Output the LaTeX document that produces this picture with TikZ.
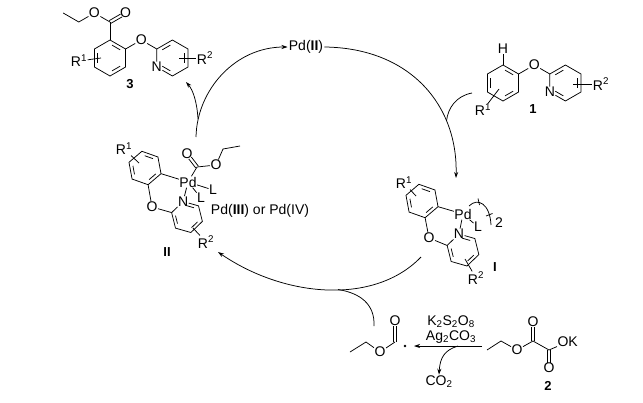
\documentclass[tikz,border=0pt]{standalone}
\usepackage{fontspec}
\setmainfont{Liberation Sans}
\usetikzlibrary{calc,arrows.meta}
\newcommand{\inb}[3]{\draw ($(#1)!0.17!(#2)!0.22!(#3)$) -- ($(#2)!0.17!(#1)!0.22!(#3)$);}
\newcommand{\dbl}[2]{%
 \draw[shorten >=5pt] ($(#1)!1.6pt!90:(#2)$) -- ($(#2)!1.6pt!-90:(#1)$);
 \draw[shorten >=5pt] ($(#1)!1.6pt!-90:(#2)$) -- ($(#2)!1.6pt!90:(#1)$);}
\begin{document}
\begin{tikzpicture}[x=1pt,y=-1pt,line width=0.75pt,
  atom/.style={inner sep=0.2pt,font=\fontsize{14}{14}\selectfont},
  lbl/.style={inner sep=1pt,font=\fontsize{13}{13}\selectfont\bfseries},
  txt/.style={inner sep=1pt,font=\fontsize{14}{14}\selectfont},
  arr/.style={-{Stealth[length=6pt,width=4pt]}}]
\fill[white] (0,0) rectangle (643,402);
\useasboundingbox (0,0) rectangle (643,402);

% ---------- compound 3 ----------
\coordinate (C3c) at (110,58);
\coordinate (A1) at (110,40); \coordinate (A2) at (125.6,49); \coordinate (A3) at (125.6,67);
\coordinate (A4) at (110,76); \coordinate (A5) at (94.4,67); \coordinate (A6) at (94.4,49);
\coordinate (K3) at (110,22); \coordinate (E3a) at (78.8,22); \coordinate (E3b) at (63.2,13);
\node[atom] (O3a) at (125.6,13) {O};
\node[atom] (O3b) at (94.4,13) {O};
\node[atom] (O3) at (141.2,40) {O};
\coordinate (Q3) at (172.4,58);
\coordinate (P1) at (156.8,49); \coordinate (P2) at (172.4,40); \coordinate (P3) at (188,49);
\coordinate (P4) at (188,67); \coordinate (P5) at (172.4,76);
\node[atom] (N3) at (156.8,67) {N};
\node[atom] (R13) at (79,61) {R\textsuperscript{1}};
\node[atom] (R23) at (205,58) {R\textsuperscript{2}};
\coordinate (r3a) at (101,58); \coordinate (r3b) at (179,58);
\node[lbl] (L3) at (130,84) {3};
\draw (A1) -- (A2) -- (A3) -- (A4) -- (A5) -- (A6) -- cycle;
\inb{A1}{A2}{C3c} \inb{A3}{A4}{C3c} \inb{A5}{A6}{C3c}
\draw (A1) -- (K3);
\dbl{K3}{O3a}
\draw (K3) -- (O3b) -- (E3a) -- (E3b);
\draw (A2) -- (O3) -- (P1);
\draw (P1) -- (P2) -- (P3) -- (P4) -- (P5) -- (N3) -- (P1);
\inb{P1}{P2}{Q3} \inb{P3}{P4}{Q3} \inb{P5}{N3.center}{Q3}
\draw (R13) -- (r3a);
\draw (r3b) -- (R23);

% ---------- compound 1 ----------
\coordinate (C1c) at (503,83);
\coordinate (B1) at (503,65); \coordinate (B2) at (518.6,74); \coordinate (B3) at (518.6,92);
\coordinate (B4) at (503,101); \coordinate (B5) at (487.4,92); \coordinate (B6) at (487.4,74);
\node[atom] (H1) at (503,49) {H};
\node[atom] (O1) at (534.2,65) {O};
\coordinate (Q1) at (565.4,83);
\coordinate (S1) at (549.8,74); \coordinate (S2) at (565.4,65); \coordinate (S3) at (581,74);
\coordinate (S4) at (581,92); \coordinate (S5) at (565.4,101);
\node[atom] (N1) at (549.8,92) {N};
\node[atom] (R11) at (483,110) {R\textsuperscript{1}};
\node[atom] (R21) at (601,84) {R\textsuperscript{2}};
\coordinate (r1a) at (499,89); \coordinate (r1b) at (573,84);
\node[lbl] (L1) at (533,109) {1};
\draw (B1) -- (B2) -- (B3) -- (B4) -- (B5) -- (B6) -- cycle;
\inb{B1}{B2}{C1c} \inb{B3}{B4}{C1c} \inb{B5}{B6}{C1c}
\draw (B1) -- (H1);
\draw (B2) -- (O1) -- (S1);
\draw (S1) -- (S2) -- (S3) -- (S4) -- (S5) -- (N1) -- (S1);
\inb{S1}{S2}{Q1} \inb{S3}{S4}{Q1} \inb{S5}{N1.center}{Q1}
\draw (R11) -- (r1a);
\draw (r1b) -- (R21);

% ---------- Pd(II) ----------
\node[txt] (PdII) at (306,47) {Pd(\textbf{II})};

% ---------- complex II ----------
\coordinate (cII) at (145,168);
\foreach \i/\a in {1/259.5,2/319.5,3/19.5,4/79.5,5/139.5,6/199.5}
  \coordinate (v\i) at ($(cII)+(\a:17)$);
\coordinate (pII) at (187,217);
\foreach \i/\a in {a/-44,b/16,c/76,d/136,e/196}
  \coordinate (w\i) at ($(pII)+(\a:16)$);
\node[atom] (NII) at ($(pII)+(-104:16)$) {N};
\node[atom] (PdB) at (188,182) {Pd};
\node[atom] (OII) at (152,207) {O};
\coordinate (ccII) at (197,167);
\node[atom] (OcII) at (187,154) {O};
\node[atom] (OeII) at (216,165) {O};
\coordinate (e1II) at (223,149); \coordinate (e2II) at (240,146);
\node[atom] (LaII) at (213,190) {L};
\node[atom] (LbII) at (201,198) {L};
\node[atom] (R1II) at (124,149) {R\textsuperscript{1}};
\node[atom] (R2II) at (206,242) {R\textsuperscript{2}};
\coordinate (r2a) at (139,163); \coordinate (r2b) at (193,228);
\node[lbl] (LII) at (167,252) {II};
\node[txt] (ox) at (260,211) {Pd(\textbf{III}) or Pd(IV)};
\draw (v1) -- (v2) -- (v3) -- (v4) -- (v5) -- (v6) -- cycle;
\inb{v1}{v2}{cII} \inb{v3}{v4}{cII} \inb{v5}{v6}{cII}
\draw (v3) -- (PdB);
\draw (v4) -- (OII) -- (we);
\draw (NII) -- (wa) -- (wb) -- (wc) -- (wd) -- (we) -- (NII);
\inb{NII.center}{wa}{pII} \inb{wb}{wc}{pII} \inb{wd}{we}{pII}
\draw (PdB) -- (NII);
\draw (PdB) -- (ccII);
\dbl{ccII}{OcII}
\draw (ccII) -- (OeII) -- (e1II) -- (e2II);
\draw (PdB) -- (LaII);
\draw (PdB) -- (LbII);
\draw (R1II) -- (r2a);
\draw (r2b) -- (R2II);

% ---------- complex I ----------
\coordinate (cI) at (422,201);
\foreach \i/\a in {1/259.5,2/319.5,3/19.5,4/79.5,5/139.5,6/199.5}
  \coordinate (u\i) at ($(cI)+(\a:17)$);
\coordinate (pI) at (463,250);
\foreach \i/\a in {a/-44,b/16,c/76,d/136,e/196}
  \coordinate (t\i) at ($(pI)+(\a:16.5)$);
\node[atom] (NI) at ($(pI)+(-104:16.5)$) {N};
\node[atom] (PdA) at (463,214) {Pd};
\node[atom] (OI) at (429,238) {O};
\node[atom] (LI) at (478,227) {L};
\node[atom] (twoI) at (499,223) {2};
\node[atom] (R1I) at (404,183) {R\textsuperscript{1}};
\node[atom] (R2I) at (476,278) {R\textsuperscript{2}};
\coordinate (r4a) at (416,196); \coordinate (r4b) at (465,259);
\node[lbl] (LI1) at (495,267) {I};
\draw (u1) -- (u2) -- (u3) -- (u4) -- (u5) -- (u6) -- cycle;
\inb{u1}{u2}{cI} \inb{u3}{u4}{cI} \inb{u5}{u6}{cI}
\draw (u3) -- (PdA);
\draw (u4) -- (OI) -- (te);
\draw (NI) -- (ta) -- (tb) -- (tc) -- (td) -- (te) -- (NI);
\inb{NI.center}{ta}{pI} \inb{tb}{tc}{pI} \inb{td}{te}{pI}
\draw (PdA) -- (NI);
\draw (PdA) -- (LI);
\coordinate (ba0) at (469,206); \coordinate (ba1) at (491,225);
\draw (ba0) .. controls (478,197) and (490,204) .. (ba1);
\coordinate (tk1a) at (478,198.5); \coordinate (tk1b) at (479.5,205);
\coordinate (tk2a) at (486,216); \coordinate (tk2b) at (492.5,213.5);
\draw (tk1a) -- (tk1b);
\draw (tk2a) -- (tk2b);
\draw (R1I) -- (r4a);
\draw (r4b) -- (R2I);

% ---------- radical and oxalate ----------
\coordinate (Rm) at (350,352); \coordinate (Rc) at (366,342); \coordinate (Rk) at (395,342);
\node[atom] (Ro) at (380,352) {O};
\node[atom] (Rd) at (395,321) {O};
\node[circle,fill,inner sep=0pt,minimum size=2.6pt] (rdot) at (405,346) {};
\draw (Rm) -- (Rc) -- (Ro) -- (Rk);
\dbl{Rk}{Rd}

\coordinate (Km) at (487,350); \coordinate (Kc) at (501,341);
\coordinate (Kk1) at (533,341); \coordinate (Kk2) at (549,350);
\node[atom] (Ko) at (517,350) {O};
\node[atom] (Ko1) at (533,322) {O};
\node[atom] (Ko2) at (549,368) {O};
\node[atom,anchor=west] (KOK) at (557,342) {OK};
\node[lbl] (L2) at (548,386) {2};
\draw (Km) -- (Kc) -- (Ko) -- (Kk1) -- (Kk2) -- (KOK);
\dbl{Kk1}{Ko1}
\dbl{Kk2}{Ko2}

\node[txt] (reag1) at (451,322) {K\textsubscript{2}S\textsubscript{2}O\textsubscript{8}};
\node[txt] (reag2) at (451,337) {Ag\textsubscript{2}CO\textsubscript{3}};
\node[txt] (co2) at (439,382) {CO\textsubscript{2}};
\coordinate (ra0) at (482,346); \coordinate (ra1) at (414,346);
\draw[arr] (ra0) -- (ra1);
\coordinate (rc0) at (458,346);
\draw[arr] (rc0) .. controls (445,350) and (440,357) .. (co2.north);

% ---------- cycle arrows ----------
\coordinate (cl0) at (196,137);
\draw[arr] (cl0) .. controls (197,90) and (235,47) .. (PdII.west);
\coordinate (cl1) at (198,119); \coordinate (cl2) at (186,82);
\draw[arr] (cl1) .. controls (197,102) and (193,90) .. (cl2);
\coordinate (cr1) at (456,178);
\draw[arr] (PdII.east) .. controls (410,48) and (458,105) .. (cr1);
\coordinate (cb0) at (472,93); \coordinate (cb1) at (446.5,121);
\draw (cb0) .. controls (456,96) and (448,108) .. (cb1);
\coordinate (cd0) at (421,257); \coordinate (cd1) at (218,252);
\draw[arr] (cd0) .. controls (375,305) and (285,298) .. (cd1);
\coordinate (ce0) at (374,326); \coordinate (ce1) at (338,289.5);
\draw (ce0) .. controls (375,304) and (360,293) .. (ce1);
\end{tikzpicture}
\end{document}
